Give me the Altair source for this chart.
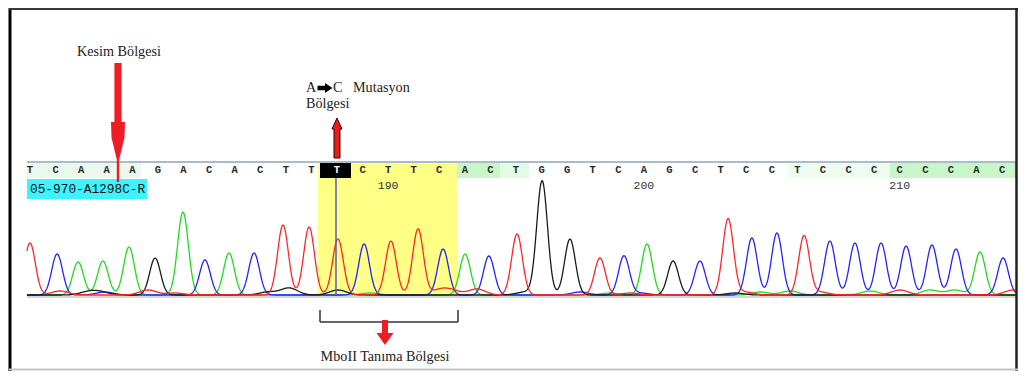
import altair as alt
import pandas as pd
import numpy as np

# ---------------- data ----------------
bases = list("TCAAAGACACTTTCTTCACTGGTCAGCTCCTCCCCCCAC")
base_index = list(range(len(bases)))
pos_labels = ["190", "200", "210"]
pos_label_index = [14, 24, 34]

# primary peaks (one per called base): center in base-index units, height in signal units
peak_center = [0.00, 1.06, 1.88, 2.85, 3.87, 4.89, 5.98, 6.84, 7.78, 8.76, 9.89, 10.91,
               12.04, 13.06, 14.11, 15.17, 16.15, 17.01, 17.94, 19.04, 20.02, 21.11, 22.28,
               23.22, 24.12, 25.14, 26.19, 27.29, 28.22, 29.20, 30.26, 31.27, 32.25, 33.27,
               34.25, 35.26, 36.20, 37.14, 38.04]
peak_height = [52, 41, 33, 34, 48, 37, 83, 35, 42, 42, 70, 68, 56, 51, 54, 66, 46, 41, 39,
               61, 114, 56, 37, 39, 51, 34, 34, 76, 57, 62, 59, 54, 52, 52, 49, 50, 46, 43, 37]

# minor background peaks
minor_channel = ["G"] * 7 + ["T"] * 11 + ["A"] * 7 + ["C"] * 3
minor_center = [2.27, 2.74, 9.30, 10.13, 12.04, 19.35, 27.56,
                1.17, 4.61, 5.67, 16.03, 16.50, 17.47, 23.46, 27.95, 30.88, 34.01, 38.43,
                13.29, 22.67, 28.54, 29.71, 32.84, 35.18, 36.16,
                2.93, 21.50, 23.85]
minor_height = [3, 3, 3, 7, 5, 3, 2,
                4, 5, 2, 5, 4, 6, 2, 3, 3, 5, 5,
                2, 2, 3, 4, 4, 5, 5,
                3, 3, 2]

channel_color = {"A": "#1fdc1f", "C": "#2424ff", "G": "#1a1a1a", "T": "#ff2626"}

# ---------------- scales ----------------
W, H = 1010, 363
PX_PER_BASE = 25.58
XD = [-0.86, -0.86 + W / PX_PER_BASE]
YD = [287 - H, 287]
xs = alt.Scale(domain=XD, nice=False, zero=False)
ys = alt.Scale(domain=YD, nice=False, zero=False)


def X(f="x"):
    return alt.X(f"{f}:Q", scale=xs, axis=None)


def Y(f="y"):
    return alt.Y(f"{f}:Q", scale=ys, axis=None)


# ---------------- traces ----------------
grid = np.arange(-0.12, 38.56, 0.02)
rows = []
for ch in "ACGT":
    sig = np.zeros_like(grid)
    for c, h, b in zip(peak_center, peak_height, bases):
        if b == ch:
            sig += h * np.exp(-((grid - c) ** 2) / (2 * 0.21 ** 2))
    for c, h, b in zip(minor_center, minor_height, minor_channel):
        if b == ch:
            sig += h * np.exp(-((grid - c) ** 2) / (2 * 0.33 ** 2))
    for g, s in zip(grid, sig):
        rows.append({"x": g, "y": s, "ch": ch, "col": channel_color[ch]})
trace_df = pd.DataFrame(rows)

traces = alt.Chart(trace_df).mark_line(strokeWidth=1.3, interpolate="linear").encode(
    x=X(), y=Y(), detail="ch:N",
    color=alt.Color("col:N", scale=None),
    order=alt.Order("x:Q"),
)


# ---------------- helpers (pixel measurements of the reference -> data units) ----------------
def ix(px):
    return (px - 30) / PX_PER_BASE


def vy(py):
    return 295 - py


# ---------------- background rectangles ----------------
rect_df = pd.DataFrame({
    "x": [ix(27), ix(457), ix(500), ix(788), ix(890), ix(318)],
    "x2": [ix(141), ix(500), ix(529), ix(890), ix(1016), ix(457)],
    "y": [vy(163)] * 6,
    "y2": [vy(178)] * 5 + [vy(297)],
    "col": ["#eaf9ea", "#c8f6c8", "#e2fbe2", "#eefcee", "#c8f6c8", "#ffff85"],
})
rects = alt.Chart(rect_df).mark_rect().encode(
    x=X(), x2="x2:Q", y=Y(), y2="y2:Q", color=alt.Color("col:N", scale=None))

black_box = alt.Chart(pd.DataFrame({"x": [ix(320)], "x2": [ix(351)], "y": [vy(163)], "y2": [vy(178)]})).mark_rect(
    color="#000000").encode(x=X(), x2="x2:Q", y=Y(), y2="y2:Q")

cyan_box = alt.Chart(pd.DataFrame({"x": [ix(27)], "x2": [ix(147)], "y": [vy(179)], "y2": [vy(199)]})).mark_rect(
    color="#3ef2ff").encode(x=X(), x2="x2:Q", y=Y(), y2="y2:Q")


# ---------------- rules ----------------
def hrule(x1, x2, y, color, w):
    return alt.Chart(pd.DataFrame({"x": [x1], "x2": [x2], "y": [y]})).mark_rule(
        color=color, strokeWidth=w).encode(x=X(), x2="x2:Q", y=Y())


def vrule(x, y1, y2, color, w):
    return alt.Chart(pd.DataFrame({"x": [x], "y": [y1], "y2": [y2]})).mark_rule(
        color=color, strokeWidth=w).encode(x=X(), y=Y(), y2="y2:Q")


base_line = hrule(ix(27), ix(1016), vy(297), "#d6d6d6", 2)
strip_line = hrule(ix(27), ix(1016), vy(162), "#a9bccf", 2)
strip_edge = vrule(ix(1016), vy(162), vy(178), "#7ed87e", 2)
cursor = vrule(ix(336), vy(178), vy(295), "#5a5ab8", 1.5)

frame = [
    vrule(ix(10), vy(0), vy(390), "#000000", 3),
    hrule(ix(9), ix(1018), vy(9), "#3a3a3a", 2),
    vrule(ix(1016.5), vy(0), vy(390), "#222222", 2.5),
    hrule(ix(9), ix(1018), vy(369.5), "#c4c4c4", 2),
]

bracket = [
    hrule(ix(320), ix(458), vy(322), "#333333", 1.5),
    vrule(ix(320), vy(310), vy(322), "#333333", 1.5),
    vrule(ix(458), vy(310), vy(322), "#333333", 1.5),
]

# ---------------- texts ----------------
letters_df = pd.DataFrame({"x": base_index, "y": [vy(170)] * len(bases), "t": bases})
letters_df["col"] = ["#ffffff" if i == 12 else "#2a2a2a" for i in base_index]
letters = alt.Chart(letters_df).mark_text(
    font="Liberation Mono", fontSize=10.5, fontWeight="bold", baseline="middle", align="center").encode(
    x=X(), y=Y(), text="t:N", color=alt.Color("col:N", scale=None))

nums = alt.Chart(pd.DataFrame({"x": pos_label_index, "y": [vy(186)] * 3, "t": pos_labels})).mark_text(
    font="Liberation Mono", fontSize=11.5, baseline="middle", align="center", color="#333333").encode(
    x=X(), y=Y(), text="t:N")

hidden_num = alt.Chart(pd.DataFrame({"x": [4], "y": [vy(186)], "t": ["180"]})).mark_text(
    font="Liberation Mono", fontSize=11.5, baseline="middle", align="center", color="#7fe3ee").encode(
    x=X(), y=Y(), text="t:N")

cyan_label = alt.Chart(pd.DataFrame({"x": [ix(30)], "y": [vy(189)], "t": ["05-970-A1298C-R"]})).mark_text(
    font="Liberation Mono", fontSize=12.8, baseline="middle", align="left", color="#111111").encode(
    x=X(), y=Y(), text="t:N")


def serif_text(px, py, txt, align="left"):
    return alt.Chart(pd.DataFrame({"x": [ix(px)], "y": [vy(py)], "t": [txt]})).mark_text(
        font="Liberation Serif", fontSize=14.2, baseline="middle", align=align, color="#222222").encode(
        x=X(), y=Y(), text="t:N")


texts = [
    serif_text(119, 52, "Kesim Bölgesi", "center"),
    serif_text(306, 88, "A"),
    serif_text(333, 88, "C"),
    serif_text(353, 88, "Mutasyon"),
    serif_text(306, 104, "Bölgesi"),
    serif_text(385, 357, "MboII Tanıma Bölgesi", "center"),
]

# ---------------- arrow glyphs (paths in pixel units, size=4 -> scale 1) ----------------
kesim_path = ("M-3.6,-59.5L3.6,-59.5L3.6,-0.5L7,-0.5L6.5,15L1.2,37L1.2,59.5L-1.2,59.5"
              "L-1.2,37L-6.5,15L-7,-0.5L-3.6,-0.5Z")
up_path = "M0,-20L5,-9L3,-9L3,20L-3,20L-3,-9L-5,-9Z"
down_path = "M-3,-12.5L3,-12.5L3,0.5L8.5,0.5L0,12.5L-8.5,0.5L-3,0.5Z"
small_right = "M-7.5,-2.3L0,-2.3L0,-5L7.5,0L0,5L0,2.3L-7.5,2.3Z"


def glyph(px, py, path, fill, stroke=None, sw=0):
    kw = dict(shape=path, size=4, filled=True, color=fill, opacity=1, strokeWidth=sw)
    if stroke:
        kw["stroke"] = stroke
    return alt.Chart(pd.DataFrame({"x": [ix(px)], "y": [vy(py)]})).mark_point(**kw).encode(x=X(), y=Y())


arrows = [
    glyph(118, 122.5, kesim_path, "#ee1c25"),
    glyph(337, 138, up_path, "#e3201c", "#3a0000", 1),
    glyph(385, 332.5, down_path, "#ee1c25"),
    glyph(325, 88, small_right, "#000000"),
]

layers = ([rects, base_line, traces, cursor, strip_line, strip_edge, black_box, letters, hidden_num, nums,
           cyan_box, cyan_label] + bracket + texts + arrows + frame)

chart = alt.layer(*layers).properties(
    width=W, height=H, background="#ffffff",
    autosize=alt.AutoSizeParams(type="none"), padding=0,
).configure_view(stroke=None)

chart.save("out.html", embed_options={"renderer": "svg", "actions": False})
